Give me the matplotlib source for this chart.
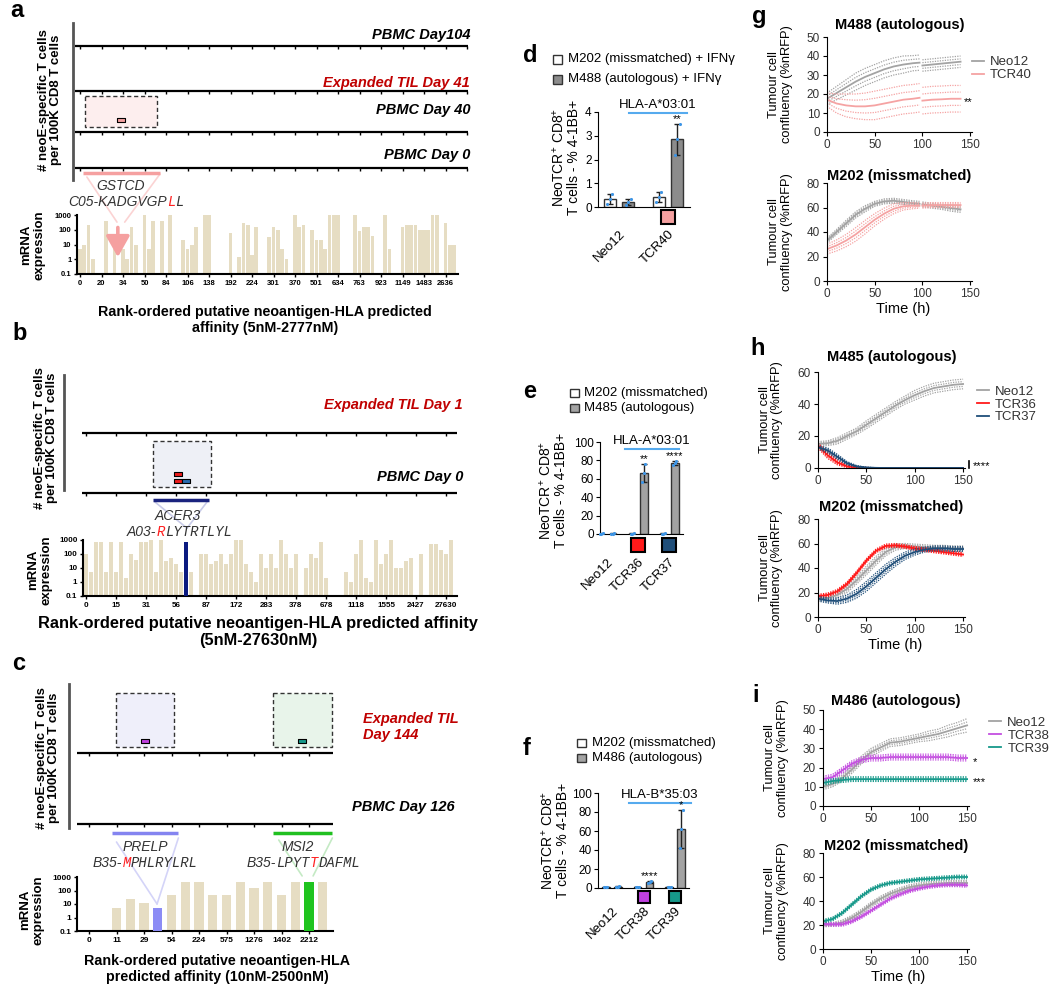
import numpy as np
import matplotlib
matplotlib.use("Agg")
import matplotlib.pyplot as plt
from matplotlib.patches import Rectangle, ConnectionPatch

plt.rcParams["font.family"] = ["Liberation Sans", "DejaVu Sans"]
plt.rcParams["mathtext.fontset"] = "custom"
plt.rcParams["mathtext.rm"] = "Liberation Sans"
plt.rcParams["mathtext.it"] = "Liberation Sans:italic"
plt.rcParams["mathtext.bf"] = "Liberation Sans:bold"

# ---------------- data: a-c, rank-ordered neoantigens ----------------
a_labels = ["0", "20", "34", "50", "84", "106", "138", "192", "224", "301", "370",
            "501", "634", "763", "923", "1149", "1483", "2636"]
a_mrna = [5, 10, 200, 1, 0, 0, 400, 0, 5, 0, 5, 1, 150, 10, 0, 1000, 5, 400, 0, 400,
          0, 1000, 0, 0, 20, 5, 10, 150, 0, 1000, 1000, 0, 0, 0, 0, 60, 0, 1.5, 300, 200,
          2, 150, 0, 0, 30, 150, 100, 5, 1, 0, 1000, 150, 200, 0, 100, 20, 20, 5, 1000, 1000,
          1000, 0, 0, 0, 1000, 80, 150, 150, 40, 0, 0, 1000, 5, 0, 0, 150, 200, 200, 200, 100,
          100, 100, 1000, 1000, 0, 300, 10, 10]
a_rows = ["PBMC Day104", "Expanded TIL Day 41", "PBMC Day 40", "PBMC Day 0"]
a_hit_rank = [9.5]
a_hit_row = [2]
a_hit_n = [2]
a_hit_col = ["#f4a0a0"]
a_arrow_rank = 8.8

b_labels = ["0", "15", "31", "56", "87", "172", "283", "378", "678", "1118", "1555",
            "2427", "27630"]
b_mrna = [100, 5, 700, 700, 5, 700, 5, 700, 2, 100, 40, 700, 700, 1000, 5, 1000, 30, 50, 20, 5,
          700, 5, 0, 100, 100, 20, 30, 100, 20, 100, 1000, 1000, 20, 5, 1, 100, 10, 100, 10, 1000,
          100, 10, 100, 0, 10, 100, 50, 700, 2, 0, 0, 0, 5, 1, 100, 1000, 2, 1, 1000, 20,
          100, 1000, 10, 10, 30, 50, 0, 100, 0, 500, 500, 200, 100, 1000]
b_rows = ["Expanded TIL Day 1", "PBMC Day 0"]
b_hit_rank = [18.3, 18.3, 20.0]
b_hit_row = [1, 1, 1]
b_hit_n = [3, 2, 2]
b_hit_col = ["#ee1c1c", "#ee1c1c", "#2b6cb0"]
b_epitope_rank = 20

c_labels = ["0", "11", "29", "54", "224", "575", "1276", "1402", "2212"]
c_mrna = [0, 0, 5, 25, 12, 5, 50, 450, 450, 50, 50, 450, 150, 450, 50, 450, 450, 450]
c_rows = ["Expanded TIL\nDay 144", "PBMC Day 126"]
c_hit_rank = [4.1, 15.5]
c_hit_row = [0, 0]
c_hit_n = [2, 2]
c_hit_col = ["#c040e0", "#17998b"]
c_epitope_rank = [5, 16]

# ---------------- data: d-f, 4-1BB upregulation ----------------
d_groups = ["Neo12", "TCR40"]
d_m202 = [[0.13, 0.33, 0.53], [0.22, 0.42, 0.62]]
d_auto = [[0.10, 0.22, 0.34], [2.20, 2.85, 3.50]]
d_stars = ["", "**"]
d_sq = [None, "#f4a0a0"]

e_groups = ["Neo12", "TCR36", "TCR37"]
e_m202 = [[0.3, 0.5, 0.7], [0.3, 0.5, 0.7], [0.3, 0.5, 0.7]]
e_auto = [[0.3, 0.5, 0.7], [56, 66, 76], [75, 77, 79]]
e_stars = ["", "**", "****"]
e_sq = [None, "#ff1a1a", "#1f4e79"]

f_groups = ["Neo12", "TCR38", "TCR39"]
f_m202 = [[0.8, 1.0, 1.2], [0.6, 0.8, 1.0], [0.8, 1.0, 1.2]]
f_auto = [[1.0, 1.5, 2.0], [5.0, 6.0, 7.0], [42, 62, 82]]
f_stars = ["", "****", "*"]
f_sq = [None, "#c040e0", "#16998a"]

# ---------------- data: g-i, tumour cell confluency ----------------
nan = np.nan
g_t = [0, 10, 20, 30, 40, 50, 60, 70, 80, 90, 97, 98, 100, 110, 120, 130, 140]
g1_neo = [17.5, 20.5, 23.5, 26.5, 29, 31, 33, 34.5, 35.5, 36.2, 36.5, nan, 35, 35.5, 36, 36.5, 37]
g1_neo_sem = [3, 3.5, 4, 4.5, 4.5, 4.5, 4.5, 4.5, 4.5, 4, 4, nan, 3, 3, 3, 3, 3]
g1_tcr = [17, 15, 14, 13.5, 13.5, 14, 15, 16, 17, 17.5, 18, nan, 16.5, 17, 17.2, 17.5, 17.5]
g1_tcr_sem = [3.5, 5, 6, 6.5, 7, 7.5, 7.5, 7.5, 7.5, 7.5, 7.5, nan, 7, 7, 7, 7, 7]
g2_neo = [33, 40, 47, 54, 59, 63, 65, 65.5, 64.5, 63.5, 63, nan, 62.5, 61.5, 60.5, 59.5, 58.5]
g2_neo_sem = [2, 2, 2.5, 2.5, 2.5, 2, 2, 2, 2, 2, 2, nan, 2, 2, 2, 2.5, 2.5]
g2_tcr = [26, 29, 33, 38, 44, 50, 55, 59, 61, 61.5, 61.5, nan, 61.5, 62, 62, 62, 62]
g2_tcr_sem = [4, 4.5, 5, 5.5, 5.5, 5, 4.5, 4, 3, 2.5, 2, nan, 2, 2, 2, 2, 2]

h_t = [0, 10, 20, 30, 40, 50, 60, 70, 80, 90, 100, 110, 120, 130, 140, 150]
h1_neo = [15, 15.5, 17, 20, 23, 27, 31, 35, 39, 42.5, 45.5, 48, 50, 51, 52, 52.5]
h1_neo_sem = [1.5, 1.5, 2, 2, 2, 2.5, 2.5, 2.5, 2.5, 2.5, 3, 3, 3, 3, 3, 3]
h1_36 = [14, 8, 3.5, 1, 0.3, 0.1, 0, 0, 0, 0, 0, 0, 0, 0, 0, 0]
h1_36_sem = [1.5, 2, 1.5, 0.8, 0.3, 0.2, 0.1, 0.1, 0.1, 0.1, 0.1, 0.1, 0.1, 0.1, 0.1, 0.1]
h1_37 = [13, 11, 7, 3, 1, 0.3, 0.1, 0, 0, 0, 0, 0, 0, 0, 0, 0]
h1_37_sem = [1, 1.5, 1.5, 1, 0.5, 0.2, 0.1, 0.1, 0.1, 0.1, 0.1, 0.1, 0.1, 0.1, 0.1, 0.1]
h2_neo = [15, 15.5, 18, 23, 30, 38, 46, 53, 57, 58, 57.5, 57, 56.5, 56.5, 56, 56]
h2_neo_sem = [2, 2, 2.5, 3, 3, 3.5, 3.5, 3, 2.5, 2, 2, 2, 2, 2, 2, 2]
h2_36 = [17, 18, 21, 27, 36, 46, 54, 58, 58.5, 57.5, 56, 55, 54, 53, 52, 51]
h2_36_sem = [1.5, 1.5, 1.5, 1.5, 1.5, 1.5, 1.5, 1.5, 1.5, 1.5, 1.5, 1.5, 1.5, 1.5, 1.5, 1.5]
h2_37 = [15, 13.5, 13, 15, 19, 25, 32, 39, 45, 50, 53, 55, 56, 56, 55.5, 55.5]
h2_37_sem = [2, 2, 2.5, 3, 3.5, 4, 4, 4, 3.5, 3, 2.5, 2, 2, 2, 2, 2]

i_t = [0, 10, 20, 30, 40, 50, 60, 70, 80, 90, 100, 110, 120, 130, 140, 150]
i1_neo = [10, 11.5, 14.5, 19, 24, 28, 30.5, 33, 33.5, 34.5, 35.5, 36.5, 37.5, 39, 40.5, 42]
i1_neo_sem = [1.5, 1.5, 1.5, 2, 2, 2, 2, 2, 2, 2, 2, 2.5, 2.5, 3, 3, 3.5]
i1_38 = [14, 15, 18.5, 22, 24, 25, 25, 25.5, 25.5, 25.5, 25.5, 25.5, 25.5, 25.5, 25, 25]
i1_38_sem = [1.5, 1.5, 1.5, 1.5, 1.5, 1.5, 1.5, 1.5, 1.5, 1.5, 1.5, 1.5, 1.5, 1.5, 1.5, 1.5]
i1_39 = [12, 13, 13.5, 14, 14, 14, 14, 14, 14, 14, 14, 14, 14, 14, 14, 14]
i1_39_sem = [1.2, 1.2, 1.2, 1.2, 1.2, 1.2, 1.2, 1.2, 1.2, 1.2, 1.2, 1.2, 1.2, 1.2, 1.2, 1.2]
i2_neo = [20, 20.5, 22, 26, 31, 37, 42, 46, 49, 51.5, 53, 54, 54.5, 55, 55, 55]
i2_neo_sem = [1.5, 1.5, 2, 2, 2, 2, 2, 2, 2, 2, 2, 2, 2, 2, 2, 2]
i2_38 = [21, 20.5, 20.5, 23, 27, 32, 37, 42, 45.5, 48.5, 50.5, 52, 53, 53.5, 53.5, 53]
i2_38_sem = [1.5, 1.5, 1.5, 1.5, 1.5, 1.5, 1.5, 1.5, 1.5, 1.5, 1.5, 1.5, 1.5, 1.5, 1.5, 1.5]
i2_39 = [23, 25, 30, 37, 44, 49.5, 53, 55, 56, 57, 58, 58.5, 59, 59.5, 60, 60]
i2_39_sem = [1.5, 1.5, 1.5, 1.5, 1.5, 1.5, 1.5, 1.5, 1.5, 1.5, 1.5, 1.5, 1.5, 1.5, 1.5, 1.5]

GREY = "#a3a3a3"
BEIGE = "#e6ddc3"

W, H = 1050, 991
fig = plt.figure(figsize=(W / 100, H / 100), dpi=100)
renderer = fig.canvas.get_renderer()


def px_ax(x0, y0, x1, y1):
    return fig.add_axes([x0 / W, 1 - y1 / H, (x1 - x0) / W, (y1 - y0) / H])


def ftext(x, y, s, **kw):
    return fig.text(x / W, 1 - y / H, s, **kw)


def pieces_text(x, y, pieces, size=10):
    # consecutive text chunks on one baseline, sans or mono
    for s, col, mono in pieces:
        fam = ["Liberation Mono", "DejaVu Sans Mono"] if mono else ["Liberation Sans", "DejaVu Sans"]
        t = ftext(x, y, s, color=col, family=fam, style="italic", fontsize=size,
                  va="baseline", ha="left")
        x += t.get_window_extent(renderer).width


RECT = [(-1, -0.5), (1, -0.5), (1, 0.5), (-1, 0.5), (-1, -0.5)]


def neo_scatter(box, x0, step, line_px, row_y, tick_ranks, spine_px):
    ax = px_ax(*box)
    ax.set_xlim((box[0] - x0) / step, (box[2] - x0) / step)
    ax.set_ylim(box[3], box[1])
    for s in ("top", "right", "bottom"):
        ax.spines[s].set_visible(False)
    ax.spines["left"].set_color("#555555")
    ax.spines["left"].set_linewidth(2)
    ax.spines["left"].set_bounds(spine_px[0], spine_px[1])
    ax.set_xticks([])
    ax.set_yticks([])
    ax.patch.set_visible(False)
    r0, r1 = (line_px[0] - x0) / step, (line_px[1] - x0) / step
    for y in row_y:
        ax.plot([r0, r1], [y, y], color="black", lw=1.6, solid_capstyle="butt", clip_on=False)
        ax.vlines(tick_ranks, y, y + 3, color="black", lw=1, clip_on=False)
    return ax


def hits(ax, row_y, ranks, rows, ns, cols, size):
    for r, row, n, c in zip(ranks, rows, ns, cols):
        ax.scatter([r], [row_y[row] - 6.2 * n], marker=RECT, s=size, facecolor=c,
                   edgecolor="black", linewidth=0.8, zorder=5)


def dash_box(ax, r0, r1, y0, y1, fc):
    ax.add_patch(Rectangle((r0, y0), r1 - r0, y1 - y0, facecolor=fc, edgecolor="#333333",
                           lw=1, ls=(0, (3, 2)), zorder=1))


def neo_bars(box, x0, step, vals, labels, tick_step, width, highlight, fs=5.5):
    ax = px_ax(*box)
    v = np.asarray(vals, float)
    pos = np.arange(len(v))
    keep = v > 0
    for i, _, _ in highlight:
        keep[i] = False
    ax.bar(pos[keep], v[keep] - 0.1, bottom=0.1, width=width, color=BEIGE, lw=0)
    for i, col, w in highlight:
        ax.bar(i, v[i] - 0.1, bottom=0.1, width=w, color=col, lw=0, zorder=3)
    ax.set_yscale("log")
    ax.set_ylim(0.1, 1000)
    ax.set_xlim((box[0] - x0) / step, (box[2] - x0) / step)
    ax.set_yticks([0.1, 1, 10, 100, 1000])
    ax.set_yticklabels(["0.1", "1", "10", "100", "1000"])
    ax.minorticks_off()
    ax.set_xticks(np.arange(len(labels)) * tick_step)
    ax.set_xticklabels(labels)
    ax.tick_params(labelsize=fs, length=2.5, width=1, pad=1.5)
    for lab in ax.get_xticklabels() + ax.get_yticklabels():
        lab.set_fontweight("bold")
    for s in ("top", "right"):
        ax.spines[s].set_visible(False)
    for s in ("left", "bottom"):
        ax.spines[s].set_linewidth(1.5)
    ax.patch.set_visible(False)
    return ax


def connect(axA, pA, axB, pB, col, lw=1.2):
    fig.add_artist(ConnectionPatch(xyA=pA, coordsA=axA.transData, xyB=pB,
                                   coordsB=axB.transData, color=col, lw=lw, zorder=0))


bold_it = dict(fontweight="bold", style="italic", fontsize=10.5)
lab_kw = dict(fontweight="bold", fontsize=9.5, rotation=90, ha="center", va="center",
              linespacing=1.1)

# ================= panel a =================
a_row_y = [46, 91, 132, 168]
sa = neo_scatter((73, 23, 470, 180), 80, 4.3, (75, 468), a_row_y, np.arange(0, 91, 5), (23, 180))
dash_box(sa, 1.2, 17.9, 96, 127, "#fdeeee")
hits(sa, a_row_y, a_hit_rank, a_hit_row, a_hit_n, a_hit_col, 40)
sa.plot([0.7, 18.6], [173, 173], color="#f5a0a0", lw=2.5, solid_capstyle="butt", clip_on=False)
ba = neo_bars((77, 215, 458, 274), 80, 4.3, a_mrna, a_labels, 5, 0.85, [])
ba.annotate("", xy=(a_arrow_rank, 0.9), xytext=(a_arrow_rank, 220),
            arrowprops=dict(arrowstyle="-|>,head_width=0.45,head_length=0.8", color="#f5a0a0",
                            lw=2.6, mutation_scale=16), zorder=5)
connect(sa, (1.6, 177), ba, (8.6, 330), "#fbd3d3")
connect(sa, (18.6, 174), ba, (10.4, 330), "#fbd3d3")
for y, s, c in zip([35, 83, 110, 155], a_rows, ["black", "#c00000", "black", "black"]):
    ftext(470, y, s, color=c, ha="right", va="center", **bold_it)
ftext(50, 100, "# neoE-specific T cells\nper 100K CD8 T cells", **lab_kw)
ftext(33, 245, "mRNA\nexpression", **lab_kw)
ftext(265, 320, "Rank-ordered putative neoantigen-HLA predicted\naffinity (5nM-2777nM)",
      fontweight="bold", fontsize=10.3, ha="center", va="center", linespacing=1.15)
ftext(121, 190, "GSTCD", style="italic", fontsize=10, color="#333333", ha="center", va="baseline")
pieces_text(68, 206, [("C05-KADGVGP", "#333333", False), ("L", "#ff2020", True),
                      ("L", "#333333", True)])

# ================= panel b =================
b_row_y = [433, 493]
sb = neo_scatter((64, 375, 463, 495), 86, 5, (82, 457), b_row_y, np.arange(0, 73, 6), (375, 490))
dash_box(sb, 13.4, 25.0, 441, 487, "#eef0f6")
hits(sb, b_row_y, b_hit_rank, b_hit_row, b_hit_n, b_hit_col, 26)
sb.plot([13.4, 24.6], [500, 500], color="#1a237e", lw=2.5, solid_capstyle="butt", clip_on=False)
bb = neo_bars((83, 540, 457, 596), 86, 5, b_mrna, b_labels, 6, 0.85,
              [(b_epitope_rank, "#0b1a80", 0.8)], fs=5.8)
connect(sb, (13.8, 502), bb, (20.2, 7000), "#c8cbe8")
connect(sb, (24.2, 502), bb, (20.2, 7000), "#c8cbe8")
for y, s, c in zip([405, 477], b_rows, ["#c00000", "black"]):
    ftext(463, y, s, color=c, ha="right", va="center", **bold_it)
ftext(46, 438, "# neoE-specific T cells\nper 100K CD8 T cells", **lab_kw)
ftext(40, 570, "mRNA\nexpression", **lab_kw)
ftext(258, 632, "Rank-ordered putative neoantigen-HLA predicted affinity\n(5nM-27630nM)",
      fontweight="bold", fontsize=11.8, ha="center", va="center", linespacing=1.15)
ftext(178, 520, "ACER3", style="italic", fontsize=10, color="#333333", ha="center", va="baseline")
pieces_text(127, 536, [("A03-", "#333333", False), ("R", "#ff2020", True),
                       ("LYTRTLYL", "#333333", True)])

# ================= panel c =================
c_row_y = [753, 824]
sc = neo_scatter((69, 684, 470, 830), 89, 13.75, (77, 333), c_row_y, np.arange(0, 17, 2), (684, 828))
dash_box(sc, 1.96, 6.2, 693, 747, "#efeffa")
dash_box(sc, 13.4, 17.7, 693, 747, "#e8f4ea")
hits(sc, c_row_y, c_hit_rank, c_hit_row, c_hit_n, c_hit_col, 26)
sc.plot([1.67, 6.5], [833, 833], color="#8484f0", lw=2.5, solid_capstyle="butt", clip_on=False)
sc.plot([13.4, 17.7], [833, 833], color="#20c020", lw=2.5, solid_capstyle="butt", clip_on=False)
bc = neo_bars((77, 877, 333, 931), 89, 13.75, c_mrna, c_labels, 2, 0.66,
              [(c_epitope_rank[0], "#8c8cf5", 0.66), (c_epitope_rank[1], "#1fc41f", 0.66)], fs=6)
connect(sc, (2.0, 842), bc, (4.95, 10), "#d4d4f8")
connect(sc, (6.5, 838), bc, (4.95, 10), "#d4d4f8")
connect(sc, (13.8, 840), bc, (15.5, 1200), "#c4eac4")
connect(sc, (17.7, 838), bc, (16.3, 1200), "#c4eac4")
ftext(363, 727, c_rows[0], color="#c00000", ha="left", va="center", linespacing=1.25, **bold_it)
ftext(352, 807, c_rows[1], color="black", ha="left", va="center", **bold_it)
ftext(48, 758, "# neoE-specific T cells\nper 100K CD8 T cells", **lab_kw)
ftext(32, 910, "mRNA\nexpression", **lab_kw)
ftext(217, 969, "Rank-ordered putative neoantigen-HLA\npredicted affinity (10nM-2500nM)",
      fontweight="bold", fontsize=10.3, ha="center", va="center", linespacing=1.15)
ftext(145, 851, "PRELP", style="italic", fontsize=10, color="#333333", ha="center", va="baseline")
pieces_text(93, 867, [("B35-", "#333333", False), ("M", "#ff2020", True),
                      ("PHLRYLRL", "#333333", True)])
ftext(298, 851, "MSI2", style="italic", fontsize=10, color="#333333", ha="center", va="baseline")
pieces_text(247, 867, [("B35-", "#333333", False), ("LPYT", "#333333", True),
                       ("T", "#ff2020", True), ("DAFML", "#333333", True)])


# ================= panels d-f =================
def rep_bars(box, groups, white, grey, grey_col, xlim, width, off, ylim, yticks, stars, sq,
             sq_y, sq_ms, hla, hla_span, pad):
    ax = px_ax(*box)
    x = np.arange(len(groups))
    for reps, dx, col in ((white, -off, "white"), (grey, off, grey_col)):
        r = np.asarray(reps, float)
        mean, sd = r.mean(1), r.std(1, ddof=1)
        ax.bar(x + dx, mean, width, color=col, edgecolor="#333333", lw=1, zorder=2)
        ax.errorbar(x + dx, mean, yerr=sd, fmt="none", ecolor="#222222", elinewidth=1,
                    capsize=2, capthick=1, zorder=3)
        for i in range(len(x)):
            ax.scatter(x[i] + dx + np.array([-0.05, 0, 0.05]), r[i], s=5, color="#3d95e6",
                       lw=0, zorder=4, clip_on=False)
        if col != "white":
            for i, s in enumerate(stars):
                if s:
                    ax.text(x[i] + dx, mean[i] + sd[i], s, ha="center", va="bottom", fontsize=8)
    for i, c in enumerate(sq):
        if c:
            ax.plot(x[i], sq_y, marker="s", ms=sq_ms, mfc=c, mec="black", mew=1.5, clip_on=False)
    ax.set_xlim(xlim)
    ax.set_ylim(ylim)
    ax.set_yticks(yticks)
    ax.set_xticks(x)
    ax.set_xticklabels(groups, rotation=45, ha="right", va="top", rotation_mode="anchor",
                       fontsize=9.5)
    ax.tick_params(axis="x", length=0, pad=pad)
    ax.tick_params(axis="y", labelsize=8.5, length=3, pad=1.5)
    for s in ("top", "right"):
        ax.spines[s].set_visible(False)
    ax.plot(hla_span[:2], [hla_span[2], hla_span[2]], color="#55aaee", lw=1.5, clip_on=False)
    ax.text(np.mean(hla_span[:2]), hla_span[3], hla, ha="center", va="bottom", fontsize=9.5)
    return ax


def legend_boxes(x, ys, labels, cols, size=9):
    for y, s, c in zip(ys, labels, cols):
        fig.add_artist(Rectangle(((x) / W, 1 - (y + size / 2) / H), size / W, size / H,
                                 facecolor=c, edgecolor="#333333", lw=1,
                                 transform=fig.transFigure))
        ftext(x + size + 6, y, s, fontsize=9.5, va="center", ha="left")


rep_bars((598, 112, 690, 207), d_groups, d_m202, d_auto, "#8c8c8c", (-0.43, 1.45), 0.245, 0.19,
         (0, 4), [0, 1, 2, 3, 4], d_stars, d_sq, -0.44, 10.5, "HLA-A*03:01",
         (0.2, 1.39, 3.96, 4.05), 15)
legend_boxes(553, [59, 79], ["M202 (missmatched) + IFN\u03b3", "M488 (autologous) + IFN\u03b3"],
             ["white", "#8c8c8c"])
ftext(566, 157, "NeoTCR$^{+}$ CD8$^{+}$\nT cells - % 4-1BB+", fontsize=10, rotation=90,
      ha="center", va="center", linespacing=1.05)

rep_bars((600, 442, 683, 534), e_groups, e_m202, e_auto, GREY, (-0.23, 2.45), 0.26, 0.185,
         (0, 100), [0, 20, 40, 60, 80, 100], e_stars, e_sq, -12, 10.5, "HLA-A*03:01",
         (0.58, 2.32, 92, 94.5), 16)
legend_boxes(570, [393, 408], ["M202 (missmatched)", "M485 (autologous)"], ["white", GREY], 8.5)
ftext(553, 490, "NeoTCR$^{+}$ CD8$^{+}$\nT cells - % 4-1BB+", fontsize=10, rotation=90,
      ha="center", va="center", linespacing=1.05)

rep_bars((598, 793, 689, 888), f_groups, f_m202, f_auto, GREY, (-0.44, 2.44), 0.25, 0.19,
         (0, 100), [0, 20, 40, 60, 80, 100], f_stars, f_sq, -9.5, 8.6, "HLA-B*35:03",
         (0.54, 2.5, 89.5, 92), 12)
legend_boxes(577, [743, 758], ["M202 (missmatched)", "M486 (autologous)"], ["white", GREY], 8.5)
ftext(555, 840, "NeoTCR$^{+}$ CD8$^{+}$\nT cells - % 4-1BB+", fontsize=10, rotation=90,
      ha="center", va="center", linespacing=1.05)


# ================= panels g-i =================
def time_ax(box, t, series, ylim, yticks, title, tpad, legend_at=None):
    ax = px_ax(*box)
    handles = []
    for mean, sem, col, lab in series:
        m = np.asarray(mean, float)
        s = np.asarray(sem, float)
        h, = ax.plot(t, m, color=col, lw=1.3)
        handles.append((h, lab))
        for k in (0.5, 1.0):
            ax.plot(t, m + k * s, color=col, lw=0.9, ls=(0, (1, 1)))
            ax.plot(t, m - k * s, color=col, lw=0.9, ls=(0, (1, 1)))
    ax.set_xlim(0, 152)
    ax.set_ylim(ylim)
    ax.set_xticks([0, 50, 100, 150])
    ax.set_yticks(yticks)
    ax.tick_params(labelsize=8.5, labelcolor="#333333", length=3, pad=2)
    for s in ("top", "right"):
        ax.spines[s].set_visible(False)
    ax.set_title(title, fontweight="bold", fontsize=10.5, pad=tpad)
    ax.set_ylabel("Tumour cell\nconfluency (%nRFP)", fontsize=9.3, linespacing=1.05)
    ax.yaxis.set_label_coords(-0.235, 0.5)
    if legend_at:
        ax.legend([h for h, _ in handles], [l for _, l in handles], loc="upper left",
                  bbox_to_anchor=legend_at, frameon=False, handlelength=0.9,
                  handletextpad=0.45, labelspacing=0.05, borderaxespad=0, borderpad=0,
                  fontsize=9.5, labelcolor="#333333")
    ax.patch.set_visible(False)
    return ax


PINK, RED, NAVY, PURPLE, TEAL = "#f5a3a3", "#ff1a1a", "#1f4e79", "#c44fe0", "#16998a"

g1 = time_ax((827, 37, 972, 132), g_t, [(g1_neo, g1_neo_sem, GREY, "Neo12"),
                                        (g1_tcr, g1_tcr_sem, PINK, "TCR40")],
             (0, 50), [0, 10, 20, 30, 40, 50], "M488 (autologous)", 6, (1.0, 0.8))
g1.text(148, 16, "**", ha="center", va="center", fontsize=8, clip_on=False)
g2 = time_ax((827, 183, 972, 281), g_t, [(g2_neo, g2_neo_sem, GREY, "Neo12"),
                                         (g2_tcr, g2_tcr_sem, PINK, "TCR40")],
             (0, 80), [0, 20, 40, 60, 80], "M202 (missmatched)", 2)
ftext(903, 309, "Time (h)", fontsize=10.5, ha="center", va="center")

h1 = time_ax((818, 372, 965, 468), h_t, [(h1_neo, h1_neo_sem, GREY, "Neo12"),
                                         (h1_36, h1_36_sem, RED, "TCR36"),
                                         (h1_37, h1_37_sem, NAVY, "TCR37")],
             (0, 60), [0, 20, 40, 60], "M485 (autologous)", 8, (1.08, 0.86))
h1.plot([156, 156], [0, 4.5], color="black", lw=1.2, clip_on=False)
h1.text(160, 1.5, "****", ha="left", va="center", fontsize=8, clip_on=False)
h2 = time_ax((818, 519, 965, 617), h_t, [(h2_neo, h2_neo_sem, GREY, "Neo12"),
                                         (h2_36, h2_36_sem, RED, "TCR36"),
                                         (h2_37, h2_37_sem, NAVY, "TCR37")],
             (0, 80), [0, 20, 40, 60, 80], "M202 (missmatched)", 6)
ftext(895, 645, "Time (h)", fontsize=10.5, ha="center", va="center")

i1 = time_ax((823, 710, 969, 806), i_t, [(i1_neo, i1_neo_sem, GREY, "Neo12"),
                                         (i1_38, i1_38_sem, PURPLE, "TCR38"),
                                         (i1_39, i1_39_sem, TEAL, "TCR39")],
             (0, 50), [0, 10, 20, 30, 40, 50], "M486 (autologous)", 3.5, (1.14, 0.93))
i1.text(156, 23, "*", ha="left", va="center", fontsize=8, clip_on=False)
i1.text(156, 12.5, "***", ha="left", va="center", fontsize=8, clip_on=False)
i2 = time_ax((823, 853, 969, 949), i_t, [(i2_neo, i2_neo_sem, GREY, "Neo12"),
                                         (i2_38, i2_38_sem, PURPLE, "TCR38"),
                                         (i2_39, i2_39_sem, TEAL, "TCR39")],
             (0, 80), [0, 20, 40, 60, 80], "M202 (missmatched)", 1)
ftext(898, 977, "Time (h)", fontsize=10.5, ha="center", va="center")

# panel letters
for s, x, y in [("a", 10, 17), ("b", 12, 340), ("c", 12, 670), ("d", 523, 62), ("e", 523, 398),
                ("f", 523, 755), ("g", 752, 23), ("h", 750, 355), ("i", 752, 702)]:
    ftext(x, y, s, fontsize=17, fontweight="bold", va="baseline", ha="left")

fig.savefig("out.png", dpi=100, facecolor="white")
